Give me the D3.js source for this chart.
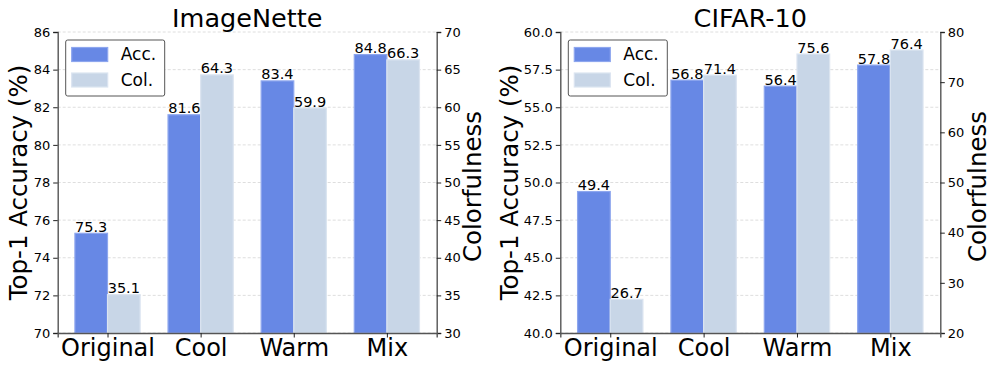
<!DOCTYPE html>
<html>
<head>
<meta charset="utf-8">
<script src="https://cdn.jsdelivr.net/npm/d3@7"></script>
<style>
  body { margin: 0; background: #fff; }
  svg { font-family: "DejaVu Sans", sans-serif; }
</style>
</head>
<body>
<svg id="Vis" width="997" height="370"></svg>
<script>
/*
* DATA
*/

const categories = ["Original", "Cool", "Warm", "Mix"];
const seriesNames = ["Acc.", "Col."];

const imagenetteAcc = [75.3, 81.6, 83.4, 84.8];
const imagenetteCol = [35.1, 64.3, 59.9, 66.3];
const imagenetteAccTicks = [70, 72, 74, 76, 78, 80, 82, 84, 86];
const imagenetteColTicks = [30, 35, 40, 45, 50, 55, 60, 65, 70];

const cifarAcc = [49.4, 56.8, 56.4, 57.8];
const cifarCol = [26.7, 71.4, 75.6, 76.4];
const cifarAccTicks = [40.0, 42.5, 45.0, 47.5, 50.0, 52.5, 55.0, 57.5, 60.0];
const cifarColTicks = [20, 30, 40, 50, 60, 70, 80];

const colors = { acc: "#6788e5", accEdge: "#8da6ee", col: "#c8d6e7", colEdge: "#dbe4f0" };

const svg = d3.select("svg#Vis");

/*
* PANEL
*/
function drawPanel(opts) {
  const left = opts.left, right = opts.right, top = 32, bottom = 333;
  const g = svg.append("g");

  // categories at 0..3, bar width 0.35, matplotlib-style margins
  const x = d3.scaleLinear().domain([-0.535, 3.535]).range([left, right]);
  const yL = d3.scaleLinear().domain(d3.extent(opts.accTicks)).range([bottom, top]);
  const yR = d3.scaleLinear().domain(d3.extent(opts.colTicks)).range([bottom, top]);
  const bw = 0.35;

  /* Grid */
  g.append("g").selectAll("line")
    .data(opts.accTicks)
    .join("line")
      .attr("x1", left).attr("x2", right)
      .attr("y1", d => yL(d)).attr("y2", d => yL(d))
      .attr("stroke", "#d6d6d6")
      .attr("stroke-width", 0.8)
      .attr("stroke-dasharray", "3,2");

  /* Bars */
  g.append("g").selectAll("rect")
    .data(opts.acc)
    .join("rect")
      .attr("x", (d, i) => x(i - bw))
      .attr("width", x(bw) - x(0))
      .attr("y", d => yL(d))
      .attr("height", d => bottom - yL(d))
      .attr("fill", colors.acc)
      .attr("stroke", colors.accEdge)
      .attr("stroke-width", 1.2);

  g.append("g").selectAll("rect")
    .data(opts.col)
    .join("rect")
      .attr("x", (d, i) => x(i))
      .attr("width", x(bw) - x(0))
      .attr("y", d => yR(d))
      .attr("height", d => bottom - yR(d))
      .attr("fill", colors.col)
      .attr("stroke", colors.colEdge)
      .attr("stroke-width", 1.2);

  /* Value labels */
  g.append("g").selectAll("text")
    .data(opts.acc)
    .join("text")
      .attr("x", (d, i) => x(i - bw / 2))
      .attr("y", d => yL(d) - 1.5)
      .attr("text-anchor", "middle")
      .attr("font-size", 14.5)
      .text(d => d.toFixed(1));

  g.append("g").selectAll("text")
    .data(opts.col)
    .join("text")
      .attr("x", (d, i) => x(i + bw / 2))
      .attr("y", d => yR(d) - 1.5)
      .attr("text-anchor", "middle")
      .attr("font-size", 14.5)
      .text(d => d.toFixed(1));

  /* Axes */
  const axL = g.append("g")
    .attr("transform", `translate(${left},0)`)
    .call(d3.axisLeft(yL).tickValues(opts.accTicks).tickFormat(opts.accFmt).tickSizeOuter(0).tickSize(4.5));
  const axR = g.append("g")
    .attr("transform", `translate(${right},0)`)
    .call(d3.axisRight(yR).tickValues(opts.colTicks).tickFormat(d3.format("d")).tickSizeOuter(0).tickSize(4.5));
  const axB = g.append("g")
    .attr("transform", `translate(0,${bottom})`)
    .call(d3.axisBottom(x).tickValues(d3.range(categories.length)).tickFormat(i => categories[i]).tickSizeOuter(0).tickSize(4.5));

  [axL, axR, axB].forEach(ax => {
    ax.select(".domain").attr("stroke", "#555").attr("stroke-width", 1.4);
    ax.selectAll(".tick line").attr("stroke", "#222");
    ax.selectAll("text").attr("font-family", "DejaVu Sans").attr("fill", "#000");
  });
  axL.selectAll("text").attr("font-size", 13);
  axR.selectAll("text").attr("font-size", 13);
  axB.selectAll("text").attr("font-size", 24).attr("dy", "0.72em").attr("y", 6);

  /* Titles */
  g.append("text")
    .attr("x", (left + right) / 2)
    .attr("y", 27)
    .attr("text-anchor", "middle")
    .attr("font-size", 25.5)
    .text(opts.title);

  g.append("text")
    .attr("transform", `translate(${opts.yLabelX},${(top + bottom) / 2}) rotate(-90)`)
    .attr("text-anchor", "middle")
    .attr("dy", "0.35em")
    .attr("font-size", 24.5)
    .text("Top-1 Accuracy (%)");

  g.append("text")
    .attr("transform", `translate(${opts.y2LabelX},${(top + bottom) / 2 + 4}) rotate(-90)`)
    .attr("text-anchor", "middle")
    .attr("dy", "0.35em")
    .attr("font-size", 24.5)
    .text("Colorfulness");

  /* Legend */
  const lg = g.append("g").attr("transform", `translate(${left + 8},40)`);
  lg.append("rect")
    .attr("width", 99).attr("height", 56)
    .attr("rx", 2)
    .attr("fill", "#fff")
    .attr("stroke", "#555")
    .attr("stroke-width", 1);
  seriesNames.forEach((name, i) => {
    lg.append("rect")
      .attr("x", 6).attr("y", 7.5 + i * 25.5)
      .attr("width", 36).attr("height", 14)
      .attr("fill", i === 0 ? colors.acc : colors.col)
      .attr("stroke", i === 0 ? colors.accEdge : colors.colEdge)
      .attr("stroke-width", 1.2);
    lg.append("text")
      .attr("x", 55).attr("y", 14.5 + i * 25.5)
      .attr("dy", "0.35em")
      .attr("font-size", 17)
      .text(name);
  });
}

drawPanel({
  title: "ImageNette", left: 57.7, right: 436.7,
  acc: imagenetteAcc, col: imagenetteCol,
  accTicks: imagenetteAccTicks, colTicks: imagenetteColTicks,
  accFmt: d3.format("d"), yLabelX: 18, y2LabelX: 472
});

drawPanel({
  title: "CIFAR-10", left: 560.3, right: 940.3,
  acc: cifarAcc, col: cifarCol,
  accTicks: cifarAccTicks, colTicks: cifarColTicks,
  accFmt: d3.format(".1f"), yLabelX: 509, y2LabelX: 977
});
</script>
</body>
</html>
